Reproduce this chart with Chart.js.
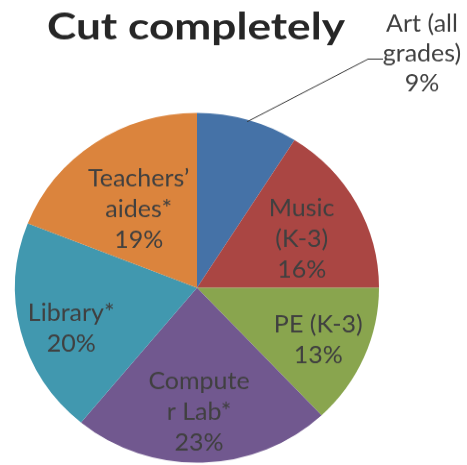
<!DOCTYPE html>
<html>
<head>
<meta charset="utf-8">
<script src="https://cdn.jsdelivr.net/npm/chart.js@4.4.1/dist/chart.umd.min.js"></script>
<style>
  html, body { margin: 0; padding: 0; background: #fff; overflow: hidden; }
  #chart { display: block; }
</style>
</head>
<body>
<canvas id="chart" width="467" height="484" style="width:467px;height:465px"></canvas>
<script>
// slices, clockwise from 12 o'clock
const categories = ["Art (all grades)", "Music (K-3)", "PE (K-3)", "Computer Lab*", "Library*", "Teachers’ aides*"]
const values = [9, 16, 13, 23, 20, 19]
// how the label text is broken over lines (as in the picture)
const labelLines = [
  ["Art (all", "grades)", "9%"],
  ["Music", "(K-3)", "16%"],
  ["PE (K-3)", "13%"],
  ["Compute", "r Lab*", "23%"],
  ["Library*", "20%"],
  ["Teachers’", "aides*", "19%"],
]
const colors = ["#4572A7", "#AA4643", "#89A54E", "#71588F", "#4198AF", "#DB843D"]

// label placement: fraction of radius, and small turn (deg) off the slice middle
const labelRadius = [null, 0.64, 0.73, 0.71, 0.73, 0.55]
const labelTurn = [0, 2.8, 0.7, 0.9, -4.4, -1.4]

const pieLabels = {
  id: 'pieLabels',
  afterDatasetsDraw(chart) {
    const ctx = chart.ctx
    const arcs = chart.getDatasetMeta(0).data
    ctx.save()
    ctx.fillStyle = '#404040'
    ctx.font = '25px Lato'
    ctx.textAlign = 'center'
    ctx.textBaseline = 'middle'
    const lh = 32
    arcs.forEach((arc, i) => {
      const p = arc.getProps(['x', 'y', 'startAngle', 'endAngle', 'outerRadius'], true)
      const mid = (p.startAngle + p.endAngle) / 2 + labelTurn[i] * Math.PI / 180
      const lines = labelLines[i]
      if (labelRadius[i] == null) {
        // outside label with leader line
        const ex = p.x + Math.cos(mid) * (p.outerRadius - 2)
        const ey = p.y + Math.sin(mid) * (p.outerRadius - 2)
        const elbowX = 368, elbowY = 61.5
        ctx.strokeStyle = '#333'
        ctx.lineWidth = 1
        ctx.beginPath()
        ctx.moveTo(ex, ey)
        ctx.lineTo(elbowX, elbowY)
        ctx.lineTo(elbowX + 15, elbowY)
        ctx.stroke()
        const cx = 422
        lines.forEach((t, k) => ctx.fillText(t, cx, 56 + (k - 1) * 31))
        return
      }
      const r = p.outerRadius * labelRadius[i]
      const cx = p.x + Math.cos(mid) * r
      const cy = p.y + Math.sin(mid) * r
      const top = cy - (lines.length - 1) * lh / 2
      lines.forEach((t, k) => ctx.fillText(t, cx, top + k * lh))
    })

    // title
    ctx.fillStyle = '#262626'
    ctx.font = 'bold 39px Lato'
    ctx.textBaseline = 'alphabetic'
    const title = 'Cut completely'
    const w = ctx.measureText(title).width
    const target = 298
    ctx.translate(196, 41)
    ctx.scale(target / w, 1)
    ctx.fillText(title, 0, 0)
    ctx.restore()
  }
}

new Chart(document.getElementById('chart'), {
  type: 'pie',
  data: {
    labels: categories,
    datasets: [{
      data: values,
      backgroundColor: colors,
      borderWidth: 0,
      hoverOffset: 0,
      offset: 0,
    }]
  },
  options: {
    responsive: false,
    animation: false,
    radius: 182,
    layout: { padding: { left: 0, right: 73, top: 115, bottom: 0 } },
    plugins: {
      legend: { display: false },
      tooltip: { enabled: false },
      title: { display: false },
    },
  },
  plugins: [pieLabels],
})
</script>
</body>
</html>
